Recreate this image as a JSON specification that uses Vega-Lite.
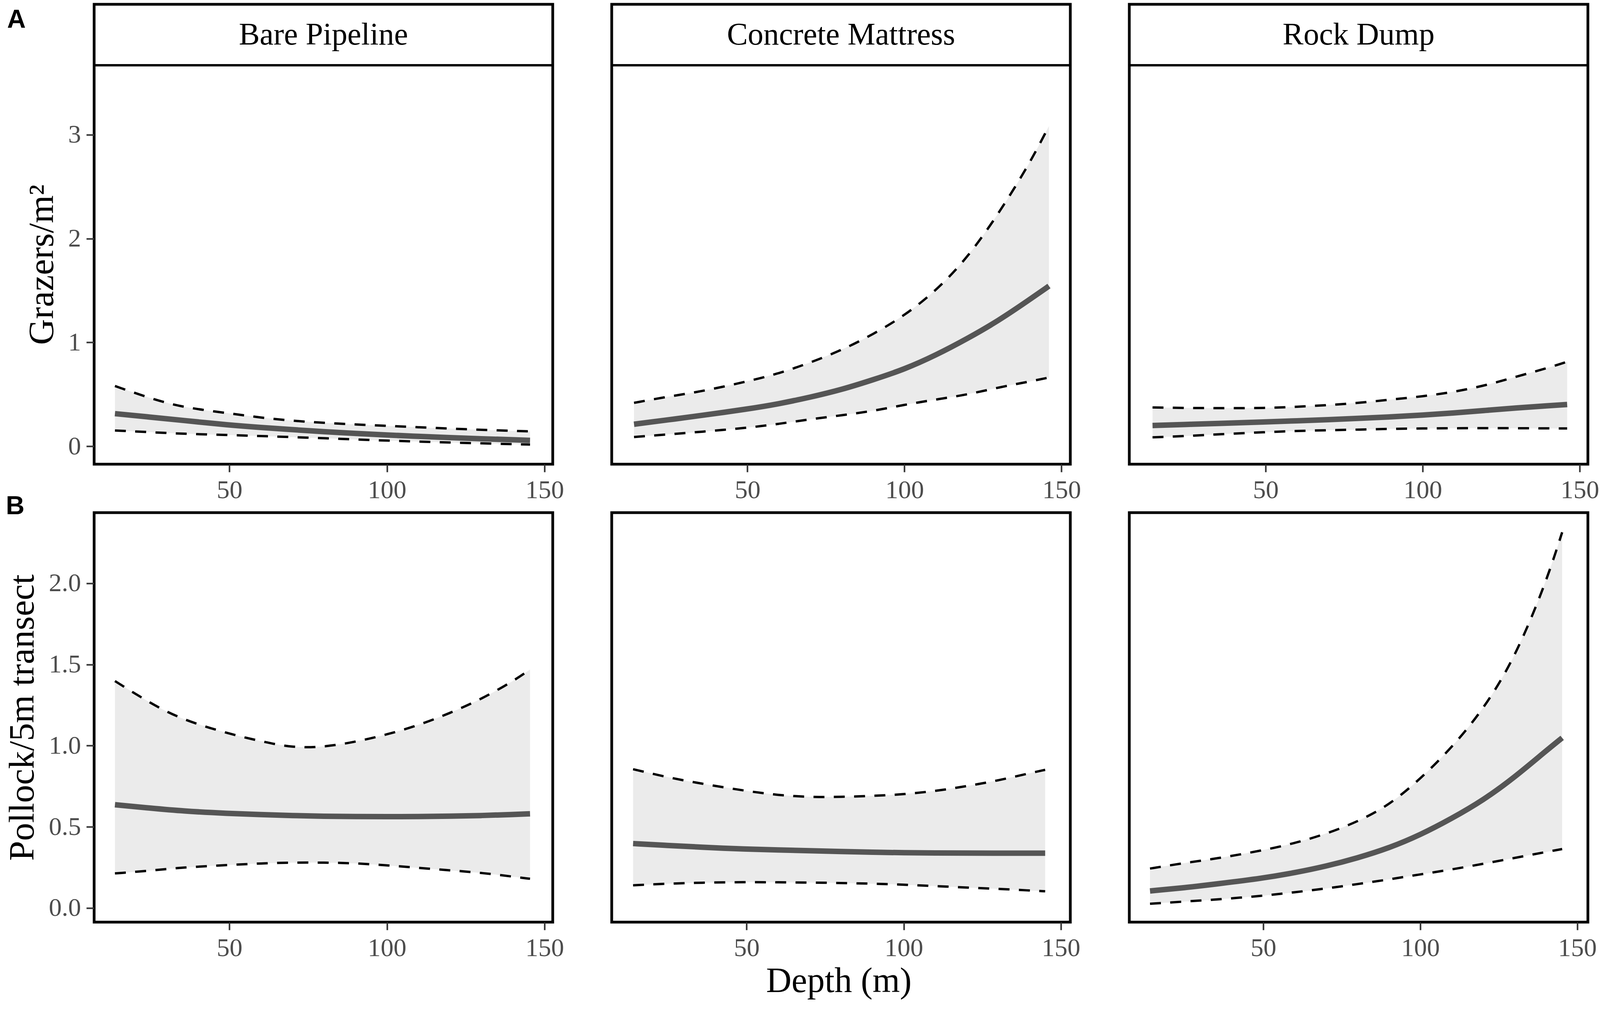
{
  "$schema": "https://vega.github.io/schema/vega-lite/v6.json",
  "description": "Predicted grazers and pollock against depth on three structure types",
  "background": "white",
  "padding": {"left": 8, "top": 7, "right": 0, "bottom": 0},
  "bounds": "flush",
  "columns": 3,
  "spacing": {"column": 151, "row": 124},
  "config": {
    "view": {"stroke": "black", "strokeWidth": 7, "fill": "white"},
    "axis": {
      "domain": false,
      "grid": false,
      "labelFont": "Liberation Serif",
      "labelFontSize": 66,
      "labelColor": "#4d4d4d",
      "labelBound": false,
      "labelFlush": false,
      "labelOverlap": false,
      "tickColor": "#333333",
      "tickSize": 20,
      "tickWidth": 4,
      "titleFont": "Liberation Serif",
      "titleFontWeight": "normal",
      "titleColor": "black"
    },
    "area": {"color": "#ebebeb", "opacity": 1},
    "text": {"font": "Liberation Serif", "color": "black"}
  },
  "datasets": {
    "A1": [
      {"depth": 13.7, "lower": 0.152, "fit": 0.314, "upper": 0.58},
      {"depth": 25, "lower": 0.135, "fit": 0.28, "upper": 0.46},
      {"depth": 35, "lower": 0.12, "fit": 0.25, "upper": 0.375},
      {"depth": 50, "lower": 0.108, "fit": 0.203, "upper": 0.317},
      {"depth": 60, "lower": 0.098, "fit": 0.18, "upper": 0.275},
      {"depth": 70, "lower": 0.088, "fit": 0.16, "upper": 0.245},
      {"depth": 80, "lower": 0.077, "fit": 0.14, "upper": 0.225},
      {"depth": 90, "lower": 0.065, "fit": 0.123, "upper": 0.21},
      {"depth": 100, "lower": 0.054, "fit": 0.108, "upper": 0.196},
      {"depth": 110, "lower": 0.045, "fit": 0.095, "upper": 0.183},
      {"depth": 120, "lower": 0.036, "fit": 0.082, "upper": 0.17},
      {"depth": 130, "lower": 0.028, "fit": 0.072, "upper": 0.158},
      {"depth": 140, "lower": 0.02, "fit": 0.062, "upper": 0.148},
      {"depth": 145.4, "lower": 0.016, "fit": 0.057, "upper": 0.143}
    ],
    "A2": [
      {"depth": 13.9, "lower": 0.089, "fit": 0.212, "upper": 0.418},
      {"depth": 25, "lower": 0.115, "fit": 0.255, "upper": 0.48},
      {"depth": 35, "lower": 0.138, "fit": 0.295, "upper": 0.525},
      {"depth": 50, "lower": 0.177, "fit": 0.358, "upper": 0.624},
      {"depth": 60, "lower": 0.215, "fit": 0.408, "upper": 0.7},
      {"depth": 70, "lower": 0.26, "fit": 0.472, "upper": 0.805},
      {"depth": 80, "lower": 0.298, "fit": 0.545, "upper": 0.925},
      {"depth": 90, "lower": 0.339, "fit": 0.64, "upper": 1.077},
      {"depth": 100, "lower": 0.4, "fit": 0.741, "upper": 1.258},
      {"depth": 110, "lower": 0.45, "fit": 0.877, "upper": 1.495},
      {"depth": 120, "lower": 0.497, "fit": 1.036, "upper": 1.812},
      {"depth": 130, "lower": 0.567, "fit": 1.21, "upper": 2.24},
      {"depth": 140, "lower": 0.624, "fit": 1.416, "upper": 2.73},
      {"depth": 146, "lower": 0.662, "fit": 1.543, "upper": 3.085}
    ],
    "A3": [
      {"depth": 14, "lower": 0.086, "fit": 0.2, "upper": 0.374},
      {"depth": 25, "lower": 0.098, "fit": 0.21, "upper": 0.368},
      {"depth": 35, "lower": 0.115, "fit": 0.22, "upper": 0.367},
      {"depth": 50, "lower": 0.136, "fit": 0.234, "upper": 0.367},
      {"depth": 60, "lower": 0.147, "fit": 0.245, "upper": 0.38},
      {"depth": 70, "lower": 0.155, "fit": 0.256, "upper": 0.396},
      {"depth": 80, "lower": 0.16, "fit": 0.269, "upper": 0.418},
      {"depth": 90, "lower": 0.168, "fit": 0.283, "upper": 0.45},
      {"depth": 100, "lower": 0.171, "fit": 0.3, "upper": 0.48},
      {"depth": 110, "lower": 0.174, "fit": 0.32, "upper": 0.523},
      {"depth": 120, "lower": 0.174, "fit": 0.345, "upper": 0.585},
      {"depth": 130, "lower": 0.174, "fit": 0.37, "upper": 0.672},
      {"depth": 140, "lower": 0.172, "fit": 0.39, "upper": 0.755},
      {"depth": 146, "lower": 0.171, "fit": 0.402, "upper": 0.814}
    ],
    "B1": [
      {"depth": 13.7, "lower": 0.213, "fit": 0.636, "upper": 1.398},
      {"depth": 25, "lower": 0.23, "fit": 0.615, "upper": 1.26},
      {"depth": 35, "lower": 0.25, "fit": 0.597, "upper": 1.16},
      {"depth": 50, "lower": 0.265, "fit": 0.582, "upper": 1.072},
      {"depth": 60, "lower": 0.275, "fit": 0.575, "upper": 1.027},
      {"depth": 70, "lower": 0.28, "fit": 0.569, "upper": 0.987},
      {"depth": 80, "lower": 0.28, "fit": 0.565, "upper": 0.991},
      {"depth": 90, "lower": 0.276, "fit": 0.563, "upper": 1.023},
      {"depth": 100, "lower": 0.263, "fit": 0.563, "upper": 1.068},
      {"depth": 110, "lower": 0.247, "fit": 0.563, "upper": 1.125},
      {"depth": 120, "lower": 0.232, "fit": 0.566, "upper": 1.2},
      {"depth": 130, "lower": 0.217, "fit": 0.569, "upper": 1.287},
      {"depth": 140, "lower": 0.193, "fit": 0.576, "upper": 1.396},
      {"depth": 145.4, "lower": 0.18, "fit": 0.58, "upper": 1.469}
    ],
    "B2": [
      {"depth": 13.9, "lower": 0.14, "fit": 0.397, "upper": 0.855},
      {"depth": 25, "lower": 0.15, "fit": 0.385, "upper": 0.804},
      {"depth": 35, "lower": 0.156, "fit": 0.375, "upper": 0.768},
      {"depth": 50, "lower": 0.16, "fit": 0.362, "upper": 0.72},
      {"depth": 60, "lower": 0.158, "fit": 0.358, "upper": 0.695},
      {"depth": 70, "lower": 0.157, "fit": 0.353, "upper": 0.683},
      {"depth": 80, "lower": 0.154, "fit": 0.348, "upper": 0.684},
      {"depth": 90, "lower": 0.15, "fit": 0.344, "upper": 0.69},
      {"depth": 100, "lower": 0.144, "fit": 0.34, "upper": 0.7},
      {"depth": 110, "lower": 0.135, "fit": 0.339, "upper": 0.72},
      {"depth": 120, "lower": 0.126, "fit": 0.338, "upper": 0.75},
      {"depth": 130, "lower": 0.118, "fit": 0.338, "upper": 0.785},
      {"depth": 140, "lower": 0.108, "fit": 0.338, "upper": 0.83},
      {"depth": 145, "lower": 0.103, "fit": 0.338, "upper": 0.851}
    ],
    "B3": [
      {"depth": 13.9, "lower": 0.026, "fit": 0.105, "upper": 0.243},
      {"depth": 25, "lower": 0.04, "fit": 0.125, "upper": 0.278},
      {"depth": 35, "lower": 0.052, "fit": 0.148, "upper": 0.304},
      {"depth": 50, "lower": 0.075, "fit": 0.184, "upper": 0.355},
      {"depth": 60, "lower": 0.097, "fit": 0.217, "upper": 0.399},
      {"depth": 70, "lower": 0.12, "fit": 0.257, "upper": 0.456},
      {"depth": 80, "lower": 0.147, "fit": 0.308, "upper": 0.531},
      {"depth": 90, "lower": 0.176, "fit": 0.369, "upper": 0.632},
      {"depth": 100, "lower": 0.207, "fit": 0.45, "upper": 0.794},
      {"depth": 110, "lower": 0.237, "fit": 0.551, "upper": 0.987},
      {"depth": 120, "lower": 0.272, "fit": 0.663, "upper": 1.22},
      {"depth": 130, "lower": 0.308, "fit": 0.804, "upper": 1.534},
      {"depth": 140, "lower": 0.345, "fit": 0.967, "upper": 2.0},
      {"depth": 145.2, "lower": 0.363, "fit": 1.048, "upper": 2.314}
    ]
  },
  "concat": [
    {
      "width": 1174,
      "height": 1177,
      "data": {"name": "A1"},
      "encoding": {
        "x": {"field": "depth", "type": "quantitative", "scale": {"domain": [7.1, 152.6], "nice": false, "zero": false}, "axis": {"values": [50, 100, 150], "title": null, "labelPadding": 14}},
        "y": {"type": "quantitative", "scale": {"domain": [-0.173, 4.257], "nice": false, "zero": false}, "axis": {"values": [0, 1, 2, 3], "format": "d", "title": "Grazers/m²", "titleFontSize": 92, "titleY": 666, "titlePadding": 20, "labelPadding": 14}}
      },
      "layer": [
        {
          "mark": {"type": "area", "interpolate": "basis"},
          "encoding": {"y": {"field": "lower"}, "y2": {"field": "upper"}}
        },
        {
          "mark": {"type": "line", "interpolate": "basis", "color": "black", "strokeWidth": 6, "strokeDash": [28, 24]},
          "encoding": {"y": {"field": "upper"}}
        },
        {
          "mark": {"type": "line", "interpolate": "basis", "color": "black", "strokeWidth": 6, "strokeDash": [28, 24]},
          "encoding": {"y": {"field": "lower"}}
        },
        {
          "mark": {"type": "line", "interpolate": "basis", "color": "#555555", "strokeWidth": 14},
          "encoding": {"y": {"field": "fit"}}
        },
        {
          "data": {"values": [{"edge": 3.67}]},
          "mark": {"type": "rule", "color": "black", "strokeWidth": 6},
          "encoding": {"x": {"value": 0}, "x2": {"value": 1174}, "y": {"field": "edge"}}
        },
        {
          "data": {"values": [{"strip": "Bare Pipeline", "depth": 79.85, "value": 3.96}]},
          "mark": {"type": "text", "fontSize": 80, "baseline": "middle", "align": "center"},
          "encoding": {"y": {"field": "value"}, "text": {"field": "strip"}}
        },
        {
          "data": {"values": [{"tag": "A", "depth": -20.5, "value": 4.03}]},
          "mark": {"type": "text", "font": "Liberation Sans", "fontWeight": "bold", "fontSize": 66, "align": "left", "baseline": "alphabetic"},
          "encoding": {"y": {"field": "value"}, "text": {"field": "tag"}}
        }
      ]
    },
    {
      "width": 1174,
      "height": 1177,
      "data": {"name": "A2"},
      "encoding": {
        "x": {"field": "depth", "type": "quantitative", "scale": {"domain": [6.8, 152.8], "nice": false, "zero": false}, "axis": {"values": [50, 100, 150], "title": null, "labelPadding": 14}},
        "y": {"type": "quantitative", "scale": {"domain": [-0.173, 4.257], "nice": false, "zero": false}, "axis": null}
      },
      "layer": [
        {
          "mark": {"type": "area", "interpolate": "basis"},
          "encoding": {"y": {"field": "lower"}, "y2": {"field": "upper"}}
        },
        {
          "mark": {"type": "line", "interpolate": "basis", "color": "black", "strokeWidth": 6, "strokeDash": [28, 24]},
          "encoding": {"y": {"field": "upper"}}
        },
        {
          "mark": {"type": "line", "interpolate": "basis", "color": "black", "strokeWidth": 6, "strokeDash": [28, 24]},
          "encoding": {"y": {"field": "lower"}}
        },
        {
          "mark": {"type": "line", "interpolate": "basis", "color": "#555555", "strokeWidth": 14},
          "encoding": {"y": {"field": "fit"}}
        },
        {
          "data": {"values": [{"edge": 3.67}]},
          "mark": {"type": "rule", "color": "black", "strokeWidth": 6},
          "encoding": {"x": {"value": 0}, "x2": {"value": 1174}, "y": {"field": "edge"}}
        },
        {
          "data": {"values": [{"strip": "Concrete Mattress", "depth": 79.8, "value": 3.96}]},
          "mark": {"type": "text", "fontSize": 80, "baseline": "middle", "align": "center"},
          "encoding": {"y": {"field": "value"}, "text": {"field": "strip"}}
        }
      ]
    },
    {
      "width": 1174,
      "height": 1177,
      "data": {"name": "A3"},
      "encoding": {
        "x": {"field": "depth", "type": "quantitative", "scale": {"domain": [6.6, 152.6], "nice": false, "zero": false}, "axis": {"values": [50, 100, 150], "title": null, "labelPadding": 14}},
        "y": {"type": "quantitative", "scale": {"domain": [-0.173, 4.257], "nice": false, "zero": false}, "axis": null}
      },
      "layer": [
        {
          "mark": {"type": "area", "interpolate": "basis"},
          "encoding": {"y": {"field": "lower"}, "y2": {"field": "upper"}}
        },
        {
          "mark": {"type": "line", "interpolate": "basis", "color": "black", "strokeWidth": 6, "strokeDash": [28, 24]},
          "encoding": {"y": {"field": "upper"}}
        },
        {
          "mark": {"type": "line", "interpolate": "basis", "color": "black", "strokeWidth": 6, "strokeDash": [28, 24]},
          "encoding": {"y": {"field": "lower"}}
        },
        {
          "mark": {"type": "line", "interpolate": "basis", "color": "#555555", "strokeWidth": 14},
          "encoding": {"y": {"field": "fit"}}
        },
        {
          "data": {"values": [{"edge": 3.67}]},
          "mark": {"type": "rule", "color": "black", "strokeWidth": 6},
          "encoding": {"x": {"value": 0}, "x2": {"value": 1174}, "y": {"field": "edge"}}
        },
        {
          "data": {"values": [{"strip": "Rock Dump", "depth": 79.6, "value": 3.96}]},
          "mark": {"type": "text", "fontSize": 80, "baseline": "middle", "align": "center"},
          "encoding": {"y": {"field": "value"}, "text": {"field": "strip"}}
        }
      ]
    },
    {
      "width": 1174,
      "height": 1048,
      "data": {"name": "B1"},
      "encoding": {
        "x": {"field": "depth", "type": "quantitative", "scale": {"domain": [7.1, 152.6], "nice": false, "zero": false}, "axis": {"values": [50, 100, 150], "title": null, "labelPadding": 14}},
        "y": {"type": "quantitative", "scale": {"domain": [-0.087, 2.435], "nice": false, "zero": false}, "axis": {"values": [0, 0.5, 1, 1.5, 2], "format": ".1f", "title": "Pollock/5m transect", "titleFontSize": 92, "titlePadding": 20, "labelPadding": 14}}
      },
      "layer": [
        {
          "mark": {"type": "area", "interpolate": "basis"},
          "encoding": {"y": {"field": "lower"}, "y2": {"field": "upper"}}
        },
        {
          "mark": {"type": "line", "interpolate": "basis", "color": "black", "strokeWidth": 6, "strokeDash": [28, 24]},
          "encoding": {"y": {"field": "upper"}}
        },
        {
          "mark": {"type": "line", "interpolate": "basis", "color": "black", "strokeWidth": 6, "strokeDash": [28, 24]},
          "encoding": {"y": {"field": "lower"}}
        },
        {
          "mark": {"type": "line", "interpolate": "basis", "color": "#555555", "strokeWidth": 14},
          "encoding": {"y": {"field": "fit"}}
        },
        {
          "data": {"values": [{"tag": "B", "depth": -20.9, "value": 2.425}]},
          "mark": {"type": "text", "font": "Liberation Sans", "fontWeight": "bold", "fontSize": 66, "align": "left", "baseline": "alphabetic"},
          "encoding": {"y": {"field": "value"}, "text": {"field": "tag"}}
        }
      ]
    },
    {
      "width": 1174,
      "height": 1048,
      "data": {"name": "B2"},
      "encoding": {
        "x": {"field": "depth", "type": "quantitative", "scale": {"domain": [7.1, 153.0], "nice": false, "zero": false}, "axis": {"values": [50, 100, 150], "title": "Depth (m)", "titleFontSize": 90, "titleX": 581, "titlePadding": 8, "labelPadding": 14}},
        "y": {"type": "quantitative", "scale": {"domain": [-0.087, 2.435], "nice": false, "zero": false}, "axis": null}
      },
      "layer": [
        {
          "mark": {"type": "area", "interpolate": "basis"},
          "encoding": {"y": {"field": "lower"}, "y2": {"field": "upper"}}
        },
        {
          "mark": {"type": "line", "interpolate": "basis", "color": "black", "strokeWidth": 6, "strokeDash": [28, 24]},
          "encoding": {"y": {"field": "upper"}}
        },
        {
          "mark": {"type": "line", "interpolate": "basis", "color": "black", "strokeWidth": 6, "strokeDash": [28, 24]},
          "encoding": {"y": {"field": "lower"}}
        },
        {
          "mark": {"type": "line", "interpolate": "basis", "color": "#555555", "strokeWidth": 14},
          "encoding": {"y": {"field": "fit"}}
        }
      ]
    },
    {
      "width": 1174,
      "height": 1048,
      "data": {"name": "B3"},
      "encoding": {
        "x": {"field": "depth", "type": "quantitative", "scale": {"domain": [7.3, 153.4], "nice": false, "zero": false}, "axis": {"values": [50, 100, 150], "title": null, "labelPadding": 14}},
        "y": {"type": "quantitative", "scale": {"domain": [-0.087, 2.435], "nice": false, "zero": false}, "axis": null}
      },
      "layer": [
        {
          "mark": {"type": "area", "interpolate": "basis"},
          "encoding": {"y": {"field": "lower"}, "y2": {"field": "upper"}}
        },
        {
          "mark": {"type": "line", "interpolate": "basis", "color": "black", "strokeWidth": 6, "strokeDash": [28, 24]},
          "encoding": {"y": {"field": "upper"}}
        },
        {
          "mark": {"type": "line", "interpolate": "basis", "color": "black", "strokeWidth": 6, "strokeDash": [28, 24]},
          "encoding": {"y": {"field": "lower"}}
        },
        {
          "mark": {"type": "line", "interpolate": "basis", "color": "#555555", "strokeWidth": 14},
          "encoding": {"y": {"field": "fit"}}
        }
      ]
    }
  ]
}
